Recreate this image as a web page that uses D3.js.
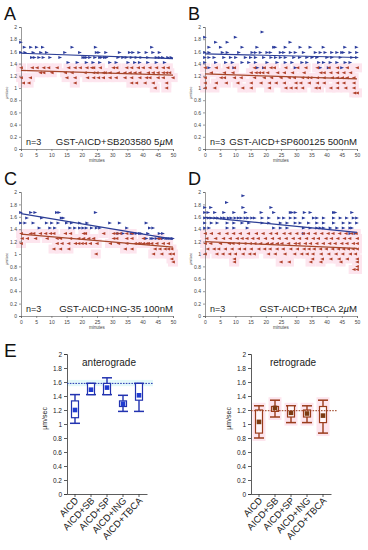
<!DOCTYPE html>
<html>
<head>
<meta charset="utf-8">
<script src="https://cdn.jsdelivr.net/npm/d3@7"></script>
<style>
  body { margin: 0; background: #fff; }
  svg { display: block; font-family: "Liberation Sans", Arial, sans-serif; }
</style>
</head>
<body>
<div id="fig"></div>
<script>
// ---- A-D : velocity vs time (rows of [speed, [minutes...]]) ----
const anteA = [
  [1.75, [0]],
  [1.67, [1.2, 3.3, 5.2, 7.2, 16.9, 24.6, 43.1]],
  [1.58, [0, 1.4, 4.1, 6.6, 8.5, 14.5, 19.4, 24.9, 25.7, 28, 32.5, 35.8, 36.9, 38.9, 41.3, 43.5, 45.6]],
  [1.5, [3.6, 4.5, 6, 7.4, 9.6, 12.9, 20.5, 21.1, 21.6, 22.7, 24.4, 26, 26.5, 27.6, 28.2, 32, 33.6, 34.7, 36.4, 38, 39.6, 41.8, 44.6, 45.6, 46.7, 48.4, 49.5]],
  [1.42, [15.6, 18.6, 21.6, 23.8, 26, 29.3, 31.4, 35.3, 37.5, 39.1, 41.8, 44.6, 47.3]]
];
const retroA = [
  [1.33, [0, 3.6, 5.2, 7.4, 9, 11.8, 15.6, 17.7, 19.4, 21.6, 23.2, 23.8, 26, 30.3, 31.4, 34.7, 36.3, 38.5, 40.1, 42.3, 44.5, 46.7, 48.3]],
  [1.25, [6.3, 7.4, 10.1, 14.5, 16.7, 21, 23.8, 24.9, 27, 27.6, 29.2, 31.9, 34.1, 35.8, 37.4, 39, 41.8, 43.4, 45, 46.7, 47.8, 48.8]],
  [1.17, [0, 3, 15, 17.7, 21.8, 23.8, 25.4, 27, 29.2, 31.2, 34.1, 36.3, 39, 41.2, 42.3, 45, 46.7, 49.9]],
  [1.08, [0.7, 2.5, 17.7, 36.3, 37.9, 40.7, 43.4, 47.8]],
  [1.0, [44, 47.8]]
];
const anteB = [
  [1.92, [18.9]],
  [1.83, [0, 10.1]],
  [1.75, [3.6, 7.4, 28.1]],
  [1.67, [1.4, 5.2, 12.3, 17.2, 22.7, 23.2, 26.5, 31.4, 34.7, 39, 46.1, 49.9]],
  [1.58, [0, 1.4, 5.8, 7.4, 11.2, 15.6, 16.7, 18.3, 20.5, 21.6, 24.9, 26, 28.2, 29.8, 32.5, 36.4, 38, 39.6, 41.8, 43.5, 45.1, 45.6, 47.8, 50]],
  [1.5, [0, 1.4, 3.1, 6.3, 8.5, 10.2, 13.4, 15.1, 16.7, 19.4, 21.8, 23.3, 24.9, 26.5, 29.3, 31.2, 33.6, 35.3, 36.9, 40.2, 41.8, 44.6, 48.4, 50]],
  [1.42, [0, 3.6, 6.9, 9.1, 12.3, 14.5, 16.7, 20.5, 23.8, 26.5, 28.7, 32, 33.6, 37.5, 39.1, 41.3, 43.5, 46.2, 47.8]],
  [1.33, [1.4, 9.6, 17.3, 19.4, 29.8, 38, 40.7, 45.1]]
];
const retroB = [
  [1.33, [0, 3.6, 7.4, 9.6, 16.2, 19.4, 21.6, 22.7, 26.5, 30.4, 33.1, 36.9, 40.7, 43.5, 46.7, 50]],
  [1.25, [2, 6.3, 9.1, 15.1, 16.7, 17.8, 18.9, 20.5, 23.8, 26, 28.7, 32.5, 38, 39.1, 41.3, 43.5, 45.6, 47.8]],
  [1.17, [0, 5.2, 6.3, 9.6, 11.8, 16.2, 19.4, 21.8, 24.9, 27.6, 29.3, 32, 33.6, 34.7, 36.9, 39.1, 41.8, 43.5, 45.1, 46.7, 48.9]],
  [1.08, [0, 3.6, 6.9, 10.7, 15.1, 18.3, 21.1, 23.3, 26, 29.8, 31.4, 34.2, 36.9, 39.1, 43.5, 45.6, 48.9]],
  [1.0, [0, 3.1, 12.3, 15.1, 21.1, 26.5, 28.2, 29.8, 32, 36.4, 37.5, 41.3, 43.5, 46.2, 48.9]],
  [0.92, [49.1, 50]]
];
const anteC = [
  [1.67, [0, 3.3, 4.7, 11.8, 12.6, 24.6]],
  [1.58, [2, 6.9, 13.4, 14]],
  [1.5, [0, 1.4, 4.1, 8.5, 10.2, 12.3, 15.1, 16.7, 19.4, 21.8, 29.3, 32.5, 41.3]],
  [1.42, [6.1, 9.6, 11.2, 16.2, 17.8, 19.4, 20.5, 21.6, 23.3, 24.9, 26, 34.9, 42.4, 43.5]],
  [1.33, [32, 33.6, 36.4, 36.9, 38, 39.1, 39.6, 41.8, 45.6, 46.7]],
  [1.25, [41.3, 42.9, 43.5, 44.6, 45.6, 46.7, 47.8, 48.4, 48.9, 49.5, 50]]
];
const retroC = [
  [1.33, [0, 3.1, 4.1, 6.3, 8, 9.6, 10.7, 14.5, 16.2, 20.5, 21.1, 27.1, 30.4, 31.4, 32.5, 34.7, 36.4]],
  [1.25, [0.3, 2, 4.7, 8.5, 11.8, 12.9, 16.2, 18.9, 20.5, 22.2, 23.8, 30.4, 31.4, 34.7, 36.4, 40.2, 45.1, 45.6]],
  [1.17, [0, 11.8, 13.4, 15.6, 17.8, 18.9, 20, 21.1, 22.7, 24.9, 29.3, 32, 34.7, 37.5, 38.5, 39.1, 40.2, 41.3, 41.8, 42.9, 44.6, 46.7, 48.4]],
  [1.08, [10.7, 12.9, 15.6, 34.2, 36.4, 44, 45.6, 47.3, 48.4, 49.5]],
  [1.0, [24.6, 43.5, 46.2, 48.9, 50]],
  [0.92, [49.5]],
  [0.87, [50]]
];
const anteD = [
  [1.94, [12.6]],
  [1.83, [7.2]],
  [1.75, [0, 2, 12.6, 21.8]],
  [1.67, [0, 1.1, 3.3, 6.3, 9.6, 13.4, 18.6, 22.7, 28.2, 28.7, 29.8, 32.8, 34.7, 42.4, 42.9, 48.4]],
  [1.58, [0, 1.2, 2.1, 3.4, 4.3, 5.6, 6.5, 7.8, 8.7, 10, 11.1, 12, 13.3, 14.2, 15.5, 16.4, 18.9, 21.1, 24.4, 26, 28.2, 29.8, 32.5, 35.8, 36.9, 39.1, 42.4, 44.6, 46.7, 48.9, 50]],
  [1.5, [0, 2.2, 4.1, 7.4, 9.6, 12.3, 14.5, 18.9, 21.1, 24.9, 27.1, 29.8, 31.4, 34.2, 36.9, 39.1, 42.4, 45.6, 47.8, 50]],
  [1.42, [0, 1.4, 7.4, 9.6, 14, 22.7, 24.9, 27.1, 32.5, 34.7, 36.9, 38, 39.1, 41.3, 43.5, 45.6, 47.8, 48.4]],
  [1.33, [32.5, 47.8, 49.5]]
];
const retroD = [
  [1.33, [0, 2, 4.5, 7.1, 9.3, 11.5, 14.2, 16.8, 19, 21.5, 23.4, 25.9, 27.8, 30.1, 32.2, 33.9, 36.1, 38.3, 40.4, 42, 44.2, 46.3, 48.1, 49.6]],
  [1.25, [0.5, 3.4, 6, 8.2, 10.5, 12.1, 13.7, 15.6, 17.4, 19.8, 22.1, 24.3, 26.6, 28.9, 31, 33.3, 35.5, 37.2, 39.7, 41.5, 43.6, 45.8, 47.5, 50]],
  [1.17, [0, 1.8, 5, 7.9, 9.1, 10.9, 13, 14.8, 16.3, 18.2, 20.4, 21.9, 23.7, 25.2, 27.4, 29.6, 30.8, 32.9, 34.6, 36.7, 38.8, 40.9, 42.7, 44.9, 46.6, 48.7, 50]],
  [1.08, [0.8, 2.9, 4.4, 6.6, 8.8, 11.2, 12.9, 15.1, 17.6, 19.5, 21.3, 23.6, 25.6, 28.1, 30.3, 32.5, 34.1, 35.8, 37.9, 39.8, 41.9, 43.8, 45.5, 47.1, 48.6, 50]],
  [1.0, [0, 3.8, 5.8, 8, 9.9, 12.4, 14.6, 16.1, 20.8, 23, 26.2, 29.4, 31.7, 33.5, 35.4, 38.1, 40.6, 43, 45.2, 47.7, 49.4]],
  [0.92, [9.6, 35.3, 38.5, 41.3, 44, 46.7, 50]],
  [0.87, [9.6, 24.9, 27.6, 34.7, 38, 44.6, 50]],
  [0.8, [50]],
  [0.75, [48.9, 50]]
];
// fitted lines: [speed at 0 min, speed at 50 min]
const trendAnte = [[1.57, 1.48], [1.56, 1.50], [1.65, 1.24], [1.59, 1.35]];
const trendRetro = [[1.29, 1.21], [1.23, 1.15], [1.32, 1.11], [1.2, 1.09]];
const panelIds = ["A", "B", "C", "D"];
const panelTitles = ["GST-AICD+SB203580 5µM", "GST-AICD+SP600125 500nM", "GST-AICD+ING-35 100nM", "GST-AICD+TBCA 2µM"];
const minuteTicks = [0, 5, 10, 15, 20, 25, 30, 35, 40, 45, 50];

// ---- E : summary box plots ----
const groups = ["AICD", "AICD+SB", "AICD+SP", "AICD+ING", "AICD+TBCA"];
const anteLow = [1.01, 1.42, 1.42, 1.18, 1.18];
const anteQ1 = [1.09, 1.42, 1.42, 1.25, 1.34];
const anteQ3 = [1.33, 1.58, 1.58, 1.33, 1.58];
const anteHigh = [1.42, 1.58, 1.66, 1.41, 1.58];
const anteMean = [1.2, 1.49, 1.52, 1.29, 1.41];
const anteRef = 1.58;
const retroLow = [0.8, 1.1, 1.02, 1.02, 0.87];
const retroQ1 = [0.87, 1.18, 1.1, 1.1, 1.02];
const retroQ3 = [1.2, 1.25, 1.26, 1.2, 1.25];
const retroHigh = [1.26, 1.34, 1.26, 1.26, 1.34];
const retroMean = [1.03, 1.23, 1.16, 1.15, 1.12];
const retroRef = 1.19;

const W = 368, H = 550;
const BLUE = "#2b3c9c", RED = "#b0402a", PINK = "#fde5ee";

const svg = d3.select("#fig").append("svg")
  .attr("width", W).attr("height", H);

const fmt = d3.format("~g");
const series = rows => rows.flatMap(([v, ts]) => ts.map(t => ({ t, v })));
const rightTri = "M-1.9,-1.5L1.9,0L-1.9,1.5Z";
const leftTri = "M1.9,-1.5L-1.9,0L1.9,1.5Z";

const anteSets = [anteA, anteB, anteC, anteD];
const retroSets = [retroA, retroB, retroC, retroD];

panelIds.forEach((id, i) => {
  const x0 = i % 2 ? 205 : 21;
  const yTop = i < 2 ? 27 : 192;
  const yBot = i < 2 ? 149 : 316;
  const x = d3.scaleLinear().domain([0, 50]).range([x0, x0 + 152]);
  const y = d3.scaleLinear().domain([0, 2]).range([yBot, yTop]);
  const g = svg.append("g");

  g.append("text").attr("x", x0 - 17).attr("y", yTop - 7)
    .attr("font-size", 18).attr("fill", "#111").text(id);

  const ante = series(anteSets[i]);
  const retro = series(retroSets[i]);

  // pink halo behind retrograde points
  g.append("g").selectAll("rect").data(retro).join("rect")
    .attr("x", d => x(d.t) - 5).attr("y", d => y(d.v) - 4.5)
    .attr("width", 10).attr("height", 9)
    .attr("fill", PINK);

  // axes
  const ya = g.append("g").attr("transform", `translate(${x0},0)`)
    .call(d3.axisLeft(y).ticks(10).tickSize(2).tickPadding(2).tickFormat(fmt));
  const xa = g.append("g").attr("transform", `translate(0,${yBot})`)
    .call(d3.axisBottom(x).tickValues(minuteTicks).tickSize(2).tickPadding(2));
  [ya, xa].forEach(a => {
    a.attr("font-size", 5).attr("font-family", null);
    a.selectAll("path,line").attr("stroke", "#555").attr("stroke-width", 0.6);
    a.selectAll("text").attr("fill", "#444");
  });
  g.append("text").attr("x", x0 + 76).attr("y", yBot + 13)
    .attr("text-anchor", "middle").attr("font-size", 4.5).attr("fill", "#444").text("minutes");
  g.append("text")
    .attr("transform", `translate(${x0 - 13},${y(0.92)}) rotate(-90)`)
    .attr("text-anchor", "middle").attr("font-size", 3.8).attr("fill", "#444").text("µm/sec");

  // markers
  g.append("g").selectAll("path").data(ante).join("path")
    .attr("d", rightTri).attr("fill", BLUE)
    .attr("transform", d => `translate(${x(d.t)},${y(d.v)})`);
  g.append("g").selectAll("path").data(retro).join("path")
    .attr("d", leftTri).attr("fill", RED)
    .attr("transform", d => `translate(${x(d.t)},${y(d.v)})`);

  // fit lines
  g.append("line")
    .attr("x1", x(0)).attr("x2", x(50))
    .attr("y1", y(trendAnte[i][0])).attr("y2", y(trendAnte[i][1]))
    .attr("stroke", "#2c3e95").attr("stroke-width", 1.2);
  g.append("line")
    .attr("x1", x(0)).attr("x2", x(50))
    .attr("y1", y(trendRetro[i][0])).attr("y2", y(trendRetro[i][1]))
    .attr("stroke", "#a5472a").attr("stroke-width", 1.2);

  // captions
  g.append("text").attr("x", x0 + 5).attr("y", yBot - 4)
    .attr("font-size", 9).attr("fill", "#222").text("n=3");
  const cap = g.append("text").attr("x", x0 + 152).attr("y", yBot - 4)
    .attr("text-anchor", "end").attr("font-size", 9.6).attr("fill", "#222");
  panelTitles[i].split(/(µ)/).forEach(part => {
    const ts = cap.append("tspan").text(part);
    if (part === "µ") ts.attr("font-style", "italic");
  });
});

// ---- panel E ----
svg.append("text").attr("x", 4).attr("y", 357)
  .attr("font-size", 19).attr("fill", "#111").text("E");

function boxPanel(opt) {
  const { x0, title, low, q1, q3, high, mean, ref, color, markColor, halo, band } = opt;
  const yBot = 494, yTop = 354;
  const y = d3.scaleLinear().domain([0, 2]).range([yBot, yTop]);
  const x = d3.scaleBand().domain(groups).range([x0, x0 + 80]);
  const cx = d => x(d) + x.bandwidth() / 2;
  const g = svg.append("g");
  const rows = groups.map((k, i) => ({ k, lo: low[i], q1: q1[i], q3: q3[i], hi: high[i], m: mean[i] }));

  if (band) {
    g.append("rect").attr("x", x0).attr("width", 86)
      .attr("y", y(ref + 0.05)).attr("height", y(ref - 0.04) - y(ref + 0.05))
      .attr("fill", band);
  }
  if (halo) {
    g.append("g").selectAll("rect").data(rows).join("rect")
      .attr("x", d => cx(d.k) - 6.5).attr("width", 13)
      .attr("y", d => y(d.hi) - 3).attr("height", d => y(d.lo) - y(d.hi) + 6)
      .attr("fill", halo);
  }

  const ya = g.append("g").attr("transform", `translate(${x0},0)`)
    .call(d3.axisLeft(y).ticks(10).tickSize(3).tickPadding(2).tickFormat(fmt));
  ya.attr("font-size", 6.5).attr("font-family", null);
  ya.selectAll("path,line").attr("stroke", "#333").attr("stroke-width", 0.8);
  ya.selectAll("text").attr("fill", "#222");

  const xa = g.append("g").attr("transform", `translate(0,${yBot})`)
    .call(d3.axisBottom(x).tickSize(3).tickSizeOuter(0));
  xa.selectAll("path,line").attr("stroke", "#333").attr("stroke-width", 0.8);
  xa.selectAll("text")
    .attr("font-size", 9.5).attr("font-family", null).attr("fill", "#222")
    .attr("text-anchor", "end").attr("dy", null).attr("y", 0)
    .attr("transform", "translate(4,7) rotate(-47)");

  g.append("text")
    .attr("transform", `translate(${x0 - 20},${y(1.08)}) rotate(-90)`)
    .attr("text-anchor", "middle").attr("font-size", 7).attr("fill", "#222").text("µm/sec");

  g.append("text").attr("x", x0 + 42).attr("y", 366)
    .attr("text-anchor", "middle").attr("font-size", 10).attr("fill", "#222").text(title);

  // whiskers
  const b = g.append("g").selectAll("g").data(rows).join("g");
  b.append("line").attr("x1", d => cx(d.k)).attr("x2", d => cx(d.k))
    .attr("y1", d => y(d.hi)).attr("y2", d => y(d.lo))
    .attr("stroke", color).attr("stroke-width", 1.4);
  [d => d.hi, d => d.lo].forEach(f => {
    b.append("line").attr("x1", d => cx(d.k) - 5).attr("x2", d => cx(d.k) + 5)
      .attr("y1", d => y(f(d))).attr("y2", d => y(f(d)))
      .attr("stroke", color).attr("stroke-width", 1.5);
  });
  b.append("rect").attr("x", d => cx(d.k) - 3.5).attr("width", 7)
    .attr("y", d => y(d.q3)).attr("height", d => y(d.q1) - y(d.q3))
    .attr("fill", halo ? "#fff7fa" : "#fff").attr("stroke", color).attr("stroke-width", 1.2);
  b.append("rect").attr("x", d => cx(d.k) - 2.3).attr("width", 4.6)
    .attr("y", d => y(d.m) - 2.3).attr("height", 4.6)
    .attr("fill", markColor);

  g.append("line").attr("x1", x0).attr("x2", x0 + 86)
    .attr("y1", y(ref)).attr("y2", y(ref))
    .attr("stroke", color).attr("stroke-width", 1).attr("stroke-dasharray", "1.6,1.2");
}

boxPanel({ x0: 67, title: "anterograde", low: anteLow, q1: anteQ1, q3: anteQ3, high: anteHigh,
  mean: anteMean, ref: anteRef, color: "#2233b0", markColor: "#1f3bd0", halo: null, band: "#e3f8fa" });
boxPanel({ x0: 251, title: "retrograde", low: retroLow, q1: retroQ1, q3: retroQ3, high: retroHigh,
  mean: retroMean, ref: retroRef, color: "#9a3c1c", markColor: "#7b3a12", halo: PINK, band: null });
</script>
</body>
</html>
